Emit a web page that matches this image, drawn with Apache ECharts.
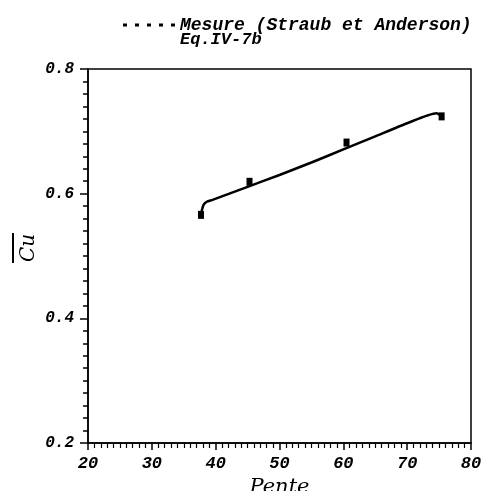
<!DOCTYPE html>
<html>
<head>
<meta charset="utf-8">
<script src="https://cdn.jsdelivr.net/npm/echarts@6/dist/echarts.min.js"></script>
<style>html,body{margin:0;padding:0;background:#fff;}#c{width:481px;height:491px;}</style>
</head>
<body>
<div id="c"></div>
<script>
// Measured points (Straub et Anderson)
const mesureX = [37.7, 45.3, 60.5, 75.4];
const mesureY = [0.566, 0.619, 0.682, 0.724];
// Eq. IV-7b curve
const eqX = [37.8, 38.1, 38.6, 39.5, 45, 50, 55, 60, 65, 70, 74.6, 75.2];
const eqY = [0.572, 0.582, 0.587, 0.590, 0.611, 0.630, 0.650, 0.671, 0.692, 0.713, 0.729, 0.726];
const xTicks = [20, 30, 40, 50, 60, 70, 80];
const yTicks = [0.2, 0.4, 0.6, 0.8];
const seriesNames = ['Mesure (Straub et Anderson)', 'Eq.IV-7b'];
const yAxisTitle = 'Cu';

const FONT = 'DejaVu Serif';
const MONO = 'Liberation Mono';
const chart = echarts.init(document.getElementById('c'), null, {renderer: 'canvas'});
const pair = (xs, ys) => xs.map((x, i) => [x, ys[i]]);

chart.setOption({
  animation: false,
  backgroundColor: '#fff',
  grid: {left: 88, right: 10, top: 69, bottom: 48, containLabel: false, outerBoundsMode: 'none',
         show: true, borderColor: '#000', borderWidth: 1.5, backgroundColor: 'transparent'},
  legend: [
    {left: 118, top: 11, orient: 'vertical', itemWidth: 52, itemHeight: 3,
     data: [{name: seriesNames[0], icon: 'path://M0,0h4v3h-4z M12,0h4v3h-4z M24,0h4v3h-4z M36,0h4v3h-4z M48,0h4v3h-4z'}],
     textStyle: {fontFamily: MONO, fontStyle: 'italic', fontWeight: 'bold', fontSize: 18, color: '#000'}},
    {left: 118, top: 26, orient: 'vertical', itemWidth: 52, itemHeight: 3,
     data: [{name: seriesNames[1], icon: 'none'}],
     textStyle: {fontFamily: MONO, fontStyle: 'italic', fontWeight: 'bold', fontSize: 17, color: '#000'}}
  ],
  xAxis: {
    type: 'value', min: 20, max: 80, interval: 10,
    name: 'Pente', nameLocation: 'middle', nameGap: 34,
    nameTextStyle: {fontFamily: FONT, fontStyle: 'italic', fontSize: 21, color: '#000'},
    axisLine: {onZero: false, lineStyle: {color: '#000', width: 1.5}},
    axisTick: {show: true, inside: false, length: 7, lineStyle: {color: '#000', width: 1.5}},
    minorTick: {show: true, splitNumber: 10, length: 5, lineStyle: {color: '#000', width: 1.2}},
    axisLabel: {margin: 12, fontFamily: MONO, fontStyle: 'italic', fontWeight: 'bold', fontSize: 17, color: '#000',
      formatter: v => xTicks.includes(v) ? String(v) : ''},
    splitLine: {show: false}
  },
  yAxis: {
    type: 'value', min: 0.2, max: 0.8, interval: 0.2,
    axisLine: {onZero: false, lineStyle: {color: '#000', width: 1.5}},
    axisTick: {show: true, inside: false, length: 8, lineStyle: {color: '#000', width: 1.5}},
    minorTick: {show: true, splitNumber: 10, length: 5, lineStyle: {color: '#000', width: 1.5}},
    axisLabel: {margin: 14, fontFamily: MONO, fontStyle: 'italic', fontWeight: 'bold', fontSize: 16, color: '#000',
      formatter: v => { const t = yTicks.find(y => Math.abs(y - v) < 1e-9); return t !== undefined ? t.toFixed(1) : ''; }},
    splitLine: {show: false}
  },
  graphic: [
    {type: 'text', x: 29, y: 248, rotation: Math.PI / 2,
     style: {text: yAxisTitle, fontFamily: FONT, fontStyle: 'italic', fontSize: 20, fill: '#000',
             textAlign: 'center', textVerticalAlign: 'middle'}},
    {type: 'line', shape: {x1: 13, y1: 233, x2: 13, y2: 263}, style: {stroke: '#000', lineWidth: 2}}
  ],
  series: [
    {name: seriesNames[0], type: 'scatter', data: pair(mesureX, mesureY),
     symbol: 'rect', symbolSize: [6, 8], itemStyle: {color: '#000', opacity: 1}, z: 3},
    {name: seriesNames[1], type: 'line', data: pair(eqX, eqY), smooth: 0.2,
     showSymbol: false, lineStyle: {color: '#000', width: 2.5}, itemStyle: {color: '#000'}}
  ]
});
</script>
</body>
</html>
